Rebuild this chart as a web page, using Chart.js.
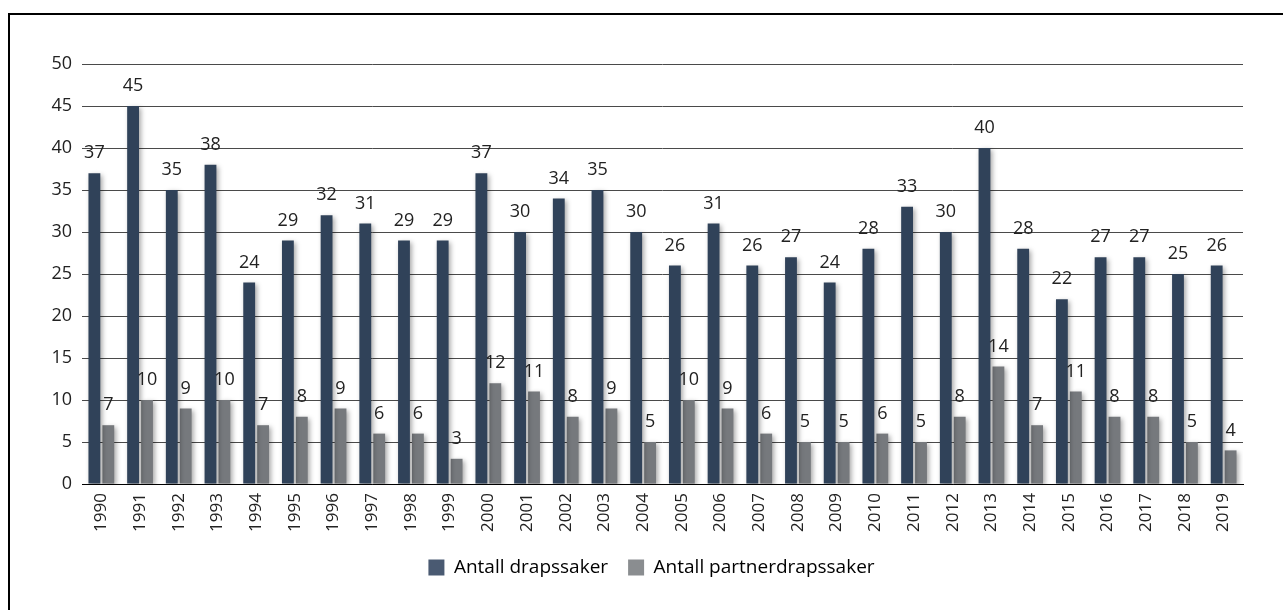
<!DOCTYPE html>
<html>
<head>
<meta charset="utf-8">
<script src="https://cdn.jsdelivr.net/npm/chart.js@4/dist/chart.umd.min.js"></script>
<style>
  html, body { margin: 0; padding: 0; background: #fff; overflow: hidden; }
  #frame { position: absolute; left: 8px; top: 13px; width: 1400px; height: 800px; border: 2px solid #000; box-sizing: border-box; }
  #wrap { position: absolute; left: 0; top: 0; width: 1283px; height: 610px; }
</style>
</head>
<body>
<div id="frame"></div>
<div id="wrap"><canvas id="c" width="1283" height="610"></canvas></div>
<script>
const years = ['1990','1991','1992','1993','1994','1995','1996','1997','1998','1999','2000','2001','2002','2003','2004','2005','2006','2007','2008','2009','2010','2011','2012','2013','2014','2015','2016','2017','2018','2019'];
const drapssaker = [37,45,35,38,24,29,32,31,29,29,37,30,34,35,30,26,31,26,27,24,28,33,30,40,28,22,27,27,25,26];
const partnerdrapssaker = [7,10,9,10,7,8,9,6,6,3,12,11,8,9,5,10,9,6,5,5,6,5,8,14,7,11,8,8,5,4];
const yTicks = [0,5,10,15,20,25,30,35,40,45,50];
const seriesNames = ['Antall drapssaker','Antall partnerdrapssaker'];

const FONT = "'Open Sans', sans-serif";
const barColors = ['#304259', '#76797d'];
const legendColors = ['#4a5a72', '#8a8d90'];

const shadowPlugin = {
  id: 'shadow',
  beforeDatasetsDraw(chart) {
    const ctx = chart.ctx;
    ctx.save();
    ctx.shadowColor = 'rgba(0,0,0,0.35)';
    ctx.shadowBlur = 5;
    ctx.shadowOffsetX = 2;
    ctx.shadowOffsetY = 2;
  },
  afterDatasetsDraw(chart) {
    const ctx = chart.ctx;
    ctx.restore();
    ctx.save();
    ctx.font = '18px ' + FONT;
    ctx.fillStyle = '#222';
    ctx.textAlign = 'center';
    ctx.textBaseline = 'middle';
    chart.data.datasets.forEach((ds, di) => {
      const meta = chart.getDatasetMeta(di);
      meta.data.forEach((bar, i) => {
        ctx.fillText(String(ds.data[i]), bar.x, bar.y - 20);
      });
    });
    ctx.restore();
  }
};

new Chart(document.getElementById('c'), {
  type: 'bar',
  data: {
    labels: years,
    datasets: [
      { label: seriesNames[0], data: drapssaker, backgroundColor: barColors[0] },
      { label: seriesNames[1], data: partnerdrapssaker, backgroundColor: barColors[1] }
    ]
  },
  options: {
    responsive: false,
    animation: false,
    devicePixelRatio: 1,
    layout: { padding: { left: 20, right: 0, top: 64, bottom: 23 } },
    datasets: { bar: { categoryPercentage: 0.72, barPercentage: 0.85 } },
    plugins: {
      tooltip: { enabled: false },
      legend: {
        position: 'bottom',
        labels: {
          font: { family: FONT, size: 19 },
          color: '#222',
          boxWidth: 16,
          boxHeight: 16,
          padding: 20,
          generateLabels(chart) {
            return chart.data.datasets.map((ds, i) => ({
              text: ds.label,
              fillStyle: legendColors[i],
              strokeStyle: legendColors[i],
              lineWidth: 0,
              hidden: false,
              datasetIndex: i
            }));
          }
        }
      }
    },
    scales: {
      x: {
        afterFit(scale) { scale.height = 54; },
        grid: { display: false, drawTicks: false },
        border: { display: true, color: '#000', width: 1 },
        ticks: {
          font: { family: FONT, size: 17 },
          color: '#222',
          minRotation: 90,
          maxRotation: 90,
          padding: 9,
          autoSkip: false
        }
      },
      y: {
        min: 0,
        max: 50,
        afterFit(scale) { scale.width = 62; },
        afterBuildTicks(scale) { scale.ticks = yTicks.map(v => ({ value: v })); },
        grid: { color: '#4a4a4a', lineWidth: 1, drawTicks: false },
        border: { display: false },
        ticks: {
          font: { family: FONT, size: 18 },
          color: '#222',
          padding: 10
        }
      },
      yRight: {
        position: 'right',
        display: true,
        min: 0,
        max: 50,
        afterFit(scale) { scale.width = 40; },
        grid: { display: false, drawTicks: false },
        border: { display: false },
        ticks: { display: false }
      }
    }
  },
  plugins: [shadowPlugin]
});
</script>
</body>
</html>
